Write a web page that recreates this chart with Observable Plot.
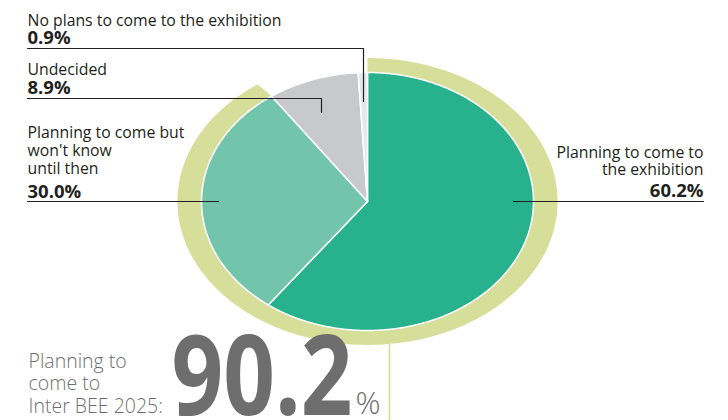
<!DOCTYPE html>
<html>
<head>
<meta charset="utf-8">
<script src="https://cdn.jsdelivr.net/npm/d3@7"></script>
<script src="https://cdn.jsdelivr.net/npm/@observablehq/plot@0.6"></script>
<style>
  html, body { margin: 0; padding: 0; background: #fff; }
  #chart { width: 728px; height: 420px; }
</style>
</head>
<body>
<div id="chart"></div>
<script>
// ---- data ----
const categories = [
  "Planning to come to the exhibition",
  "Planning to come but won't know until then",
  "Undecided",
  "No plans to come to the exhibition"
];
const values = [60.2, 30.0, 8.9, 0.9];
const labelLines = [
  ["Planning to come to", "the exhibition"],
  ["Planning to come but", "won't know", "until then"],
  ["Undecided"],
  ["No plans to come to the exhibition"]
];
const sliceColors = ["#27b18c", "#72c4aa", "#c8c9cb", "#e6e7e8"];
const ringColor = "#d5df9a";
const planningTotal = 90.2;
const headlineLines = ["Planning to", "come to", "Inter BEE 2025:"];

// ---- layout ----
const W = 728, H = 420;
const cx = 367, cy = 201, rx = 166, ry = 129;
const kx = 1.145, ky = 1.112; // outer ring scale
const u = px => (px - cx) / rx;      // pixel -> unit x
const v = py => (cy - py) / ry;      // pixel -> unit y

// ---- slice polygons (angles clockwise from 12 o'clock) ----
const total = d3.sum(values);
let acc = 0;
const slices = values.map((val, i) => {
  const a0 = acc / total * 2 * Math.PI;
  acc += val;
  const a1 = acc / total * 2 * Math.PI;
  const n = Math.max(4, Math.ceil((a1 - a0) / 0.01));
  const pts = [{x: 0, y: 0}];
  for (let k = 0; k <= n; k++) {
    const t = a0 + (a1 - a0) * k / n;
    pts.push({x: Math.sin(t), y: Math.cos(t)});
  }
  return {i, pts};
});

// ring around "planning" share
const ringEnd = planningTotal / 100 * 2 * Math.PI;
const ringPts = [];
{
  const n = 400;
  for (let k = 0; k <= n; k++) {
    const t = ringEnd * k / n;
    ringPts.push({x: kx * Math.sin(t), y: ky * Math.cos(t)});
  }
  for (let k = n; k >= 0; k--) {
    const t = ringEnd * k / n;
    ringPts.push({x: Math.sin(t), y: Math.cos(t)});
  }
}

// ---- leader lines (pixel anchors) ----
const leaders = [
  [[27, 48], [363, 48], [363, 101]],
  [[27, 98], [321, 98], [321, 112]],
  [[27, 201], [218, 201]],
  [[513, 201], [703, 201]]
].map((seg, j) => seg.map(([px, py]) => ({x: u(px), y: v(py), j})));

const dark = "#231f20";
const gray = "#6e6e6e";
const fam = "'Open Sans', 'Noto Sans', sans-serif";

// ---- texts ----
const fmt = d => d.toFixed(1) + "%";
const LS = 15.8, BS = 18.5;
const texts = [];
// No plans (index 3)
texts.push({t: labelLines[3][0], px: 27, py: 25, w: 400, s: LS, a: "start"});
texts.push({t: fmt(values[3]), px: 27, py: 43.5, w: 700, s: BS, a: "start"});
// Undecided (index 2)
texts.push({t: labelLines[2][0], px: 27, py: 74, w: 400, s: LS, a: "start"});
texts.push({t: fmt(values[2]), px: 27, py: 93, w: 700, s: BS, a: "start"});
// Planning but (index 1)
[137, 155, 173].forEach((py, k) => texts.push({t: labelLines[1][k], px: 27, py, w: 400, s: LS, a: "start"}));
texts.push({t: fmt(values[1]), px: 27, py: 197, w: 700, s: BS, a: "start"});
// Planning to come (index 0)
[157, 174].forEach((py, k) => texts.push({t: labelLines[0][k], px: 703, py, w: 400, s: LS, a: "end"}));
texts.push({t: fmt(values[0]), px: 703, py: 196, w: 700, s: BS, a: "end"});

const headTexts = headlineLines.map((t, k) => ({t, px: 28, py: [367, 389, 412][k]}));

const marks = [
  Plot.line(ringPts, {x: "x", y: "y", fill: ringColor, stroke: "none", curve: "linear-closed"}),
  ...slices.map(s => Plot.line(s.pts, {
    x: "x", y: "y", fill: sliceColors[s.i], stroke: "white", strokeWidth: 1.5,
    strokeLinejoin: "round", curve: "linear-closed"
  })),
  // vertical stem under the ring
  Plot.line([{x: u(389), y: v(344)}, {x: u(389), y: v(421)}], {x: "x", y: "y", stroke: ringColor, strokeWidth: 1.6}),
  ...leaders.map(seg => Plot.line(seg, {x: "x", y: "y", stroke: dark, strokeWidth: 1.2})),
  ...texts.map(d => Plot.text([d], {
    x: r => u(r.px), y: r => v(r.py), text: "t", textAnchor: d.a, lineAnchor: "bottom",
    fill: dark, fontSize: d.s, fontWeight: d.w, fontFamily: fam
  })),
  Plot.text(headTexts, {
    x: r => u(r.px), y: r => v(r.py), text: "t", textAnchor: "start", lineAnchor: "bottom",
    fill: gray, fontSize: 19.5, fontWeight: 300, fontFamily: fam
  }),
  Plot.text([planningTotal.toFixed(1)], {
    x: () => u(171), y: () => v(414), text: d => d, textAnchor: "start", lineAnchor: "bottom",
    fill: gray, fontSize: 111, fontWeight: 700, fontFamily: fam
  }),
  Plot.text(["%"], {
    x: () => u(355), y: () => v(413), text: d => d, textAnchor: "start", lineAnchor: "bottom",
    fill: gray, fontSize: 31, fontWeight: 300, fontFamily: fam
  })
];

const chart = Plot.plot({
  width: W, height: H,
  margin: 0,
  x: {domain: [-1, 1], range: [cx - rx, cx + rx], axis: null},
  y: {domain: [-1, 1], range: [cy + ry, cy - ry], axis: null},
  style: {background: "white", overflow: "visible"},
  marks
});

d3.select(chart).selectAll("text")
  .filter(function () { return this.textContent === planningTotal.toFixed(1); })
  .attr("textLength", 181).attr("lengthAdjust", "spacingAndGlyphs");

document.getElementById("chart").appendChild(chart);
</script>
</body>
</html>
